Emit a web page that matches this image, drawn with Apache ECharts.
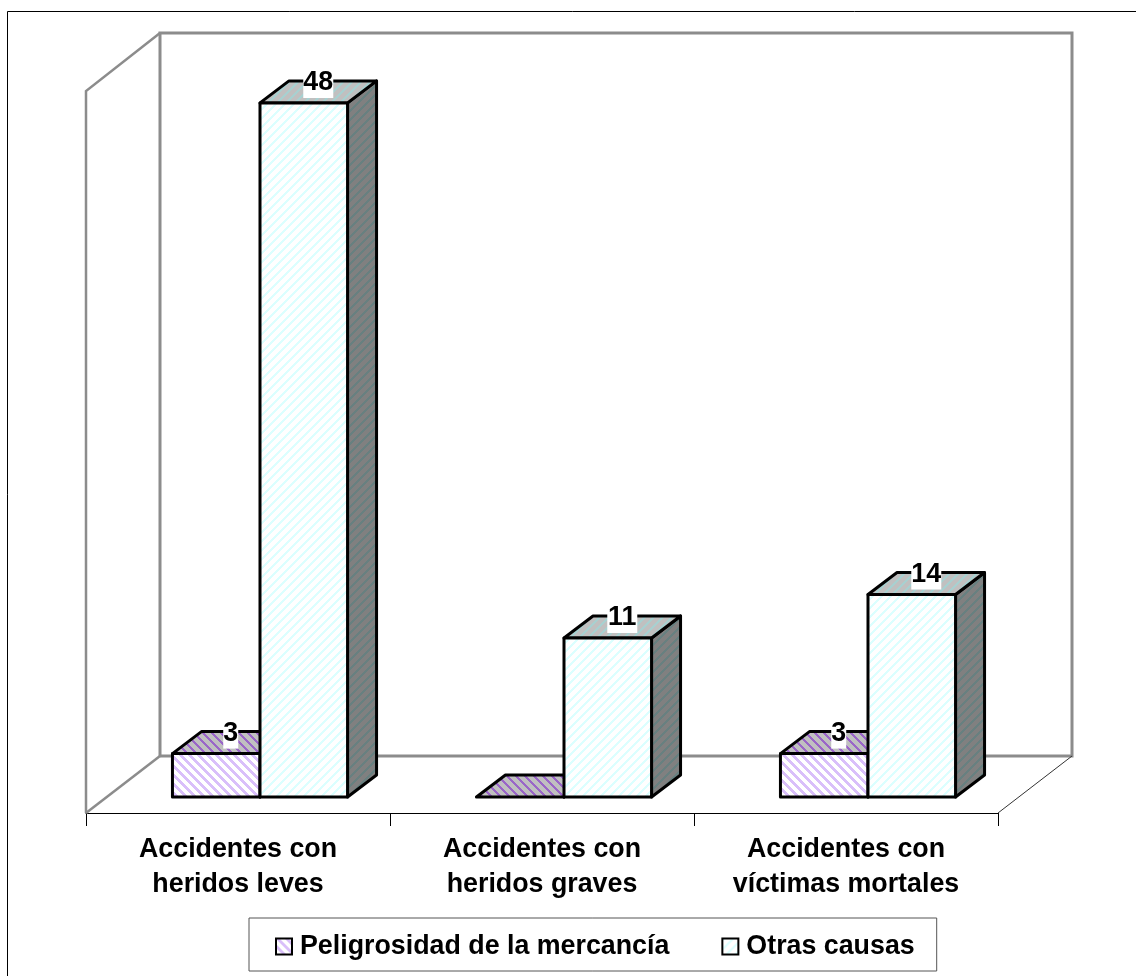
<!DOCTYPE html>
<html><head><meta charset="utf-8">
<style>html,body{margin:0;padding:0;background:#fff}#c{width:1136px;height:976px}</style>
<script src="https://cdn.jsdelivr.net/npm/echarts@6/dist/echarts.min.js"></script>
</head><body><div id="c"></div>
<script>
const categories = ['Accidentes con\nheridos leves', 'Accidentes con\nheridos graves', 'Accidentes con\nvíctimas mortales'];
const seriesNames = ['Peligrosidad de la mercancía', 'Otras causas'];
const peligrosidad = [3, 0, 3];
const otrasCausas = [48, 11, 14];

function hatch(bg, fg, dir, size, w) {
  const c = document.createElement('canvas');
  c.width = c.height = size;
  const g = c.getContext('2d');
  g.fillStyle = bg; g.fillRect(0, 0, size, size);
  g.fillStyle = fg;
  for (let y = 0; y < size; y++) for (let x = 0; x < size; x++) {
    const k = dir > 0 ? (x + y) % size : (x - y + size) % size;
    if (k < w) g.fillRect(x, y, 1, 1);
  }
  return { image: c, repeat: 'repeat' };
}
const fills = [
  { front: hatch('#ffffff', '#d9bffa', -1, 9, 4), top: hatch('#c0c0c0', '#9a66c8', -1, 9, 3), side: hatch('#808080', '#6c5a86', -1, 9, 4) },
  { front: hatch('#ffffff', '#dcffff', 1, 9, 3), top: hatch('#c0c0c0', '#a8d0d0', 1, 9, 3), side: hatch('#808080', '#688080', 1, 9, 3) }
];
const DX = 29, DY = -22, FRONT = [-22, 16], BACK = [52, -41];
const BAND_FRACTION = 0.288;

function poly(points, style, z2) {
  return { type: 'polygon', shape: { points }, style, z2: z2 || 0 };
}
function barItem(si) {
  return function (params, api) {
    const i = api.value(0), v = api.value(1);
    const base = api.coord([i, 0]), top = api.coord([i, v]);
    const w = api.size([1, 0])[0] * BAND_FRACTION;
    const x0 = base[0] + (si === 0 ? -w : 0), x1 = x0 + w;
    const yb = base[1], yt = top[1];
    const line = { stroke: '#000', lineWidth: 3, lineJoin: 'round' };
    const f = fills[si], ch = [];
    ch.push(poly([[x1, yt], [x1 + DX, yt + DY], [x1 + DX, yb + DY], [x1, yb]], Object.assign({ fill: f.side }, line)));
    ch.push(poly([[x0, yt], [x0 + DX, yt + DY], [x1 + DX, yt + DY], [x1, yt]], Object.assign({ fill: f.top }, line)));
    if (v > 0) ch.push(poly([[x0, yt], [x1, yt], [x1, yb], [x0, yb]], Object.assign({ fill: f.front }, line)));
    return { type: 'group', children: ch };
  };
}
function labelItem(si) {
  return function (params, api) {
    const i = api.value(0), v = api.value(1);
    if (!v) return null;
    const base = api.coord([i, 0]), top = api.coord([i, v]);
    const w = api.size([1, 0])[0] * BAND_FRACTION;
    const cx = base[0] + (si === 0 ? -w / 2 : w / 2) + DX / 2;
    const s = String(v), tw = s.length === 1 ? 15 : 30;
    return { type: 'group', children: [
      { type: 'rect', shape: { x: cx - tw / 2, y: top[1] - 39, width: tw, height: 34 }, style: { fill: '#fff' } },
      { type: 'text', x: cx, y: top[1] - 20, style: { text: s, font: 'bold 26.8px "Liberation Sans"', fill: '#000', align: 'center', verticalAlign: 'middle' }, z2: 2 }
    ] };
  };
}
function wallItem(params, api) {
  const r = params.coordSys, L = r.x, R = r.x + r.width, T = r.y, B = r.y + r.height;
  const f = (x, y) => [x + FRONT[0], y + FRONT[1]], b = (x, y) => [x + BACK[0], y + BACK[1]];
  const grey = '#8c8c8c';
  const ln = (pts, color, width) => ({ type: 'polyline', shape: { points: pts }, style: { stroke: color, lineWidth: width, fill: null, lineJoin: 'miter' } });
  return { type: 'group', children: [
    ln([f(L, B), f(L, T + 1), b(L, T)], grey, 2.5),
    ln([f(L, B), b(L, B)], grey, 2.5),
    ln([b(L, B), b(L, T), b(R, T), b(R, B), b(L, B)], grey, 3),
    ln([b(R, B), f(R, B)], '#333', 1)
  ] };
}
const wrap = arr => arr.map((v, i) => [i, v]);

const chart = echarts.init(document.getElementById('c'), null, { renderer: 'canvas' });
chart.setOption({
  animation: false,
  backgroundColor: '#fff',
  grid: [
    { left: 108, width: 912, top: 74, height: 723 },
    { left: 86, width: 912, top: 90, height: 723 }
  ],
  xAxis: [
    { type: 'category', gridIndex: 0, data: categories, show: false },
    { type: 'category', gridIndex: 1, data: categories,
      axisLine: { show: true, lineStyle: { color: '#000', width: 1 } },
      axisTick: { show: true, alignWithLabel: false, length: 13, lineStyle: { color: '#000', width: 1 } },
      axisLabel: { margin: 19, interval: 0, color: '#000', fontFamily: 'Liberation Sans', fontWeight: 'bold', fontSize: 26.8, lineHeight: 35, align: 'center' } }
  ],
  yAxis: [
    { type: 'value', gridIndex: 0, min: 0, max: 50, show: false },
    { type: 'value', gridIndex: 1, min: 0, max: 50, show: false }
  ],
  legend: {
    left: 249, top: 918, orient: 'horizontal',
    backgroundColor: '#fff', borderColor: '#555', borderWidth: 1,
    padding: [15, 22, 11, 26], itemGap: 52, itemWidth: 16, itemHeight: 16,
    textStyle: { color: '#000', fontFamily: 'Liberation Sans', fontWeight: 'bold', fontSize: 26.8, padding: [0, 0, 0, 3] },
    data: [
      { name: seriesNames[0], icon: 'rect', itemStyle: { color: fills[0].front, borderColor: '#000', borderWidth: 2 } },
      { name: seriesNames[1], icon: 'rect', itemStyle: { color: fills[1].front, borderColor: '#000', borderWidth: 2 } }
    ]
  },
  series: [
    { type: 'custom', name: 'walls', xAxisIndex: 0, yAxisIndex: 0, coordinateSystem: 'cartesian2d', renderItem: wallItem, data: [[0, 0]], z: 1, silent: true, clip: false },
    { type: 'custom', name: seriesNames[0], xAxisIndex: 0, yAxisIndex: 0, renderItem: barItem(0), data: wrap(peligrosidad), encode: { x: 0, y: 1 }, itemStyle: { color: fills[0].front }, z: 3, clip: false },
    { type: 'custom', name: seriesNames[1], xAxisIndex: 0, yAxisIndex: 0, renderItem: barItem(1), data: wrap(otrasCausas), encode: { x: 0, y: 1 }, itemStyle: { color: fills[1].front }, z: 4, clip: false },
    { type: 'custom', name: 'labelsA', xAxisIndex: 0, yAxisIndex: 0, renderItem: labelItem(0), data: wrap(peligrosidad), encode: { x: 0, y: 1 }, z: 6, silent: true, clip: false },
    { type: 'custom', name: 'labelsB', xAxisIndex: 0, yAxisIndex: 0, renderItem: labelItem(1), data: wrap(otrasCausas), encode: { x: 0, y: 1 }, z: 6, silent: true, clip: false }
  ],
  graphic: [
    { type: 'rect', silent: true, z: 0, shape: { x: 7.5, y: 11.5, width: 1140, height: 980 }, style: { fill: null, stroke: '#000', lineWidth: 1 } }
  ]
});
</script></body></html>
